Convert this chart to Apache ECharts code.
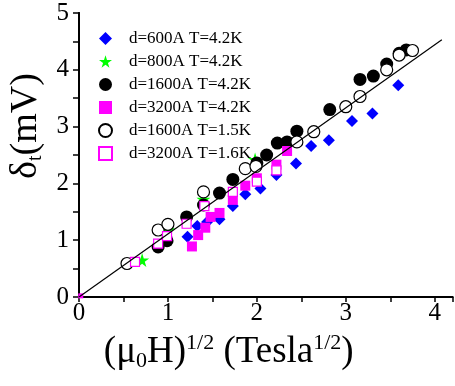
<!DOCTYPE html>
<html>
<head>
<meta charset="utf-8">
<script src="https://cdn.jsdelivr.net/npm/echarts@6/dist/echarts.min.js"></script>
<style>
  html, body { margin: 0; padding: 0; background: #fff; }
  #chart { width: 455px; height: 386px; }
</style>
</head>
<body>
<div id="chart"></div>
<script>
// values
const d600x = [1.22, 1.33, 1.44, 1.58, 1.73, 1.87, 2.04, 2.22, 2.44, 2.61, 2.81, 3.07, 3.30, 3.59];
const d600y = [1.06, 1.25, 1.32, 1.37, 1.60, 1.81, 1.91, 2.15, 2.35, 2.66, 2.76, 3.10, 3.23, 3.73];

const d800x = [0.71, 1.00, 1.40, 1.98];
const d800y = [0.65, 1.18, 1.72, 2.42];

const d1600x = [0.89, 0.99, 1.21, 1.40, 1.58, 1.73, 2.00, 2.11, 2.23, 2.34, 2.45, 2.82, 3.16, 3.31, 3.46, 3.60, 3.68];
const d1600y = [0.88, 0.99, 1.41, 1.62, 1.83, 2.07, 2.36, 2.50, 2.71, 2.73, 2.92, 3.30, 3.83, 3.89, 4.10, 4.29, 4.35];

const d3200x = [0.02, 1.27, 1.34, 1.42, 1.48, 1.58, 1.73, 1.87, 2.00, 2.22, 2.34];
const d3200y = [0.02, 0.89, 1.09, 1.22, 1.41, 1.48, 1.71, 1.96, 2.09, 2.33, 2.57];

const o1600x = [0.54, 0.89, 1.00, 1.40, 1.87, 1.99, 2.45, 2.64, 3.00, 3.16, 3.46, 3.60, 3.75];
const o1600y = [0.59, 1.18, 1.28, 1.85, 2.26, 2.30, 2.73, 2.91, 3.35, 3.53, 4.00, 4.26, 4.34];

const o3200x = [0.63, 0.89, 0.99, 1.21, 1.41, 1.73, 2.00, 2.22];
const o3200y = [0.62, 0.94, 1.07, 1.29, 1.60, 1.85, 2.03, 2.23];

// linear fit drawn through the origin
const fitX = [0, 4.08];
const fitY = [0, 4.53];

const names = [
  'd=600A T=4.2K',
  'd=800A T=4.2K',
  'd=1600A T=4.2K',
  'd=3200A T=4.2K',
  'd=1600A T=1.5K',
  'd=3200A T=1.6K'
];

const FONT = '"Liberation Serif", "Times New Roman", serif';
const STAR = 'path://M50,0 L61,35 L98,35 L68,57 L79,91 L50,70 L21,91 L32,57 L2,35 L39,35 Z';

const pairs = (xs, ys) => xs.map((x, i) => [x, ys[i]]);
const intLabel = (v) => (Math.abs(v - Math.round(v)) < 1e-6 ? String(Math.round(v)) : '');

const chart = echarts.init(document.getElementById('chart'), null, { renderer: 'canvas' });

const axisLine = { show: true, lineStyle: { color: '#000', width: 2 } };

chart.setOption({
  animation: false,
  backgroundColor: '#fff',
  grid: { left: 79, right: 2.5, top: 13, bottom: 89, containLabel: false, outerBoundsMode: 'none' },
  legend: {
    orient: 'vertical',
    left: 93,
    top: 25,
    itemWidth: 13,
    itemHeight: 13,
    itemGap: 6,
    data: names,
    textStyle: { fontFamily: FONT, fontSize: 17, color: '#000', lineHeight: 15, padding: [0, 0, 0, 12] }
  },
  xAxis: [
    {
      type: 'value', position: 'bottom', min: 0, max: 4.2, interval: 0.5,
      axisLine, splitLine: { show: false },
      axisTick: { inside: false, length: 5, lineStyle: { color: '#000', width: 1.5 } },
      axisLabel: { formatter: intLabel, fontFamily: FONT, fontSize: 25, color: '#000', margin: 4 },
      name: '{a|(μ}{b|0}{a|H)}{c|1/2}{a| (Tesla}{c|1/2}{a|)}',
      nameLocation: 'middle',
      nameGap: 35,
      nameTextStyle: {
        padding: [0, 74, 0, 0],
        rich: {
          a: { fontFamily: FONT, fontSize: 37, color: '#000', lineHeight: 40 },
          b: { fontFamily: FONT, fontSize: 22, color: '#000', lineHeight: 2, verticalAlign: 'bottom' },
          c: { fontFamily: FONT, fontSize: 22, color: '#000', lineHeight: 16, verticalAlign: 'top' }
        }
      }
    },
    {
      type: 'value', position: 'top', min: 0, max: 4.2, interval: 0.5,
      axisLine, splitLine: { show: false },
      axisTick: { inside: true, length: 5, lineStyle: { color: '#000', width: 1.5 } },
      axisLabel: { show: false }
    }
  ],
  yAxis: [
    {
      type: 'value', position: 'left', min: 0, max: 5, interval: 0.5,
      axisLine, splitLine: { show: false },
      axisTick: { inside: false, length: 6, lineStyle: { color: '#000', width: 1.5 } },
      axisLabel: { formatter: intLabel, fontFamily: FONT, fontSize: 25, color: '#000', margin: 10 },
      name: '{a|δ}{b|t}{a|(mV)}',
      nameLocation: 'middle',
      nameRotate: 90,
      nameGap: 33,
      nameTextStyle: {
        padding: [0, 0, 0, 58],
        rich: {
          a: { fontFamily: FONT, fontSize: 38, color: '#000', lineHeight: 40 },
          b: { fontFamily: FONT, fontSize: 20, color: '#000', lineHeight: 4, verticalAlign: 'bottom' }
        }
      }
    },
    {
      type: 'value', position: 'right', min: 0, max: 5, interval: 0.5,
      axisLine, splitLine: { show: false },
      axisTick: { inside: true, length: 5, lineStyle: { color: '#000', width: 1.5 } },
      axisLabel: { show: false }
    }
  ],
  series: [
    {
      name: names[0], type: 'scatter', symbol: 'diamond', symbolSize: 12,
      itemStyle: { color: '#0000ff', opacity: 1 }, data: pairs(d600x, d600y)
    },
    {
      name: names[1], type: 'scatter', symbol: STAR, symbolSize: 14,
      itemStyle: { color: '#00ff00', opacity: 1 }, data: pairs(d800x, d800y)
    },
    {
      name: names[2], type: 'scatter', symbol: 'circle', symbolSize: 13,
      itemStyle: { color: '#000', opacity: 1 }, data: pairs(d1600x, d1600y)
    },
    {
      name: names[3], type: 'scatter', symbol: 'rect',
      symbolSize: (v) => (v[0] < 0.1 ? 5 : 10),
      itemStyle: { color: '#ff00ff', opacity: 1 }, data: pairs(d3200x, d3200y)
    },
    {
      name: names[4], type: 'scatter', symbol: 'circle', symbolSize: 12,
      itemStyle: { color: '#fff', borderColor: '#000', borderWidth: 1.2, opacity: 1 }, data: pairs(o1600x, o1600y)
    },
    {
      name: names[5], type: 'scatter', symbol: 'rect', symbolSize: 9,
      itemStyle: { color: '#fff', borderColor: '#ff00ff', borderWidth: 1.2, opacity: 1 }, data: pairs(o3200x, o3200y)
    },
    {
      name: 'fit', type: 'line', symbol: 'none', silent: true,
      lineStyle: { color: '#000', width: 1.2 }, data: pairs(fitX, fitY), z: 3
    }
  ]
});
</script>
</body>
</html>
